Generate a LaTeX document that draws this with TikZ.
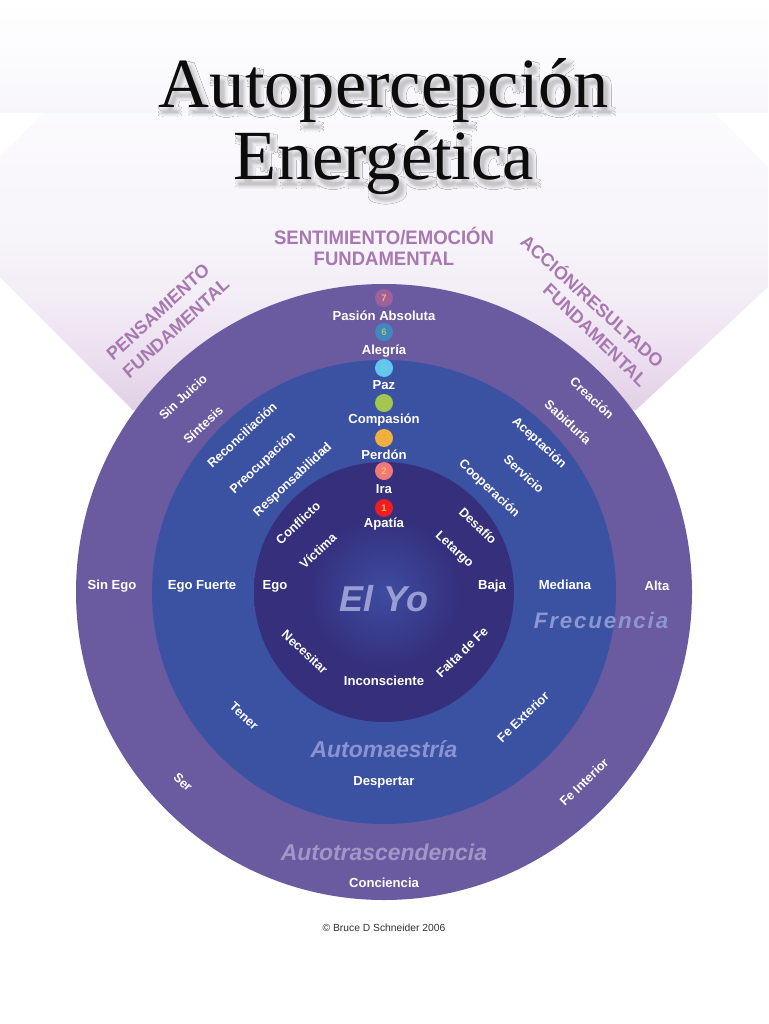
\documentclass[tikz,border=0pt]{standalone}
\usepackage{fontspec}
\usetikzlibrary{fadings}
\setmainfont{Liberation Sans}
\newfontfamily\titlefont{Liberation Serif}
\definecolor{ringout}{HTML}{6A5A9F}
\definecolor{ringmid}{HTML}{3B51A2}
\definecolor{ringin}{HTML}{352F7C}
\definecolor{ringglow}{HTML}{3E4CA0}
\definecolor{ringglowb}{HTML}{3A4092}
\definecolor{heading}{HTML}{A878B0}
\definecolor{hexa}{HTML}{E0D0E4}
\definecolor{hexb}{HTML}{ECDFF0}
\definecolor{hexc}{HTML}{F3EDF6}
\definecolor{hexd}{HTML}{F7F4FA}
\definecolor{hexe}{HTML}{FBFAFD}
\definecolor{bandlow}{HTML}{F8F6FB}
\definecolor{titleink}{HTML}{0C0C0C}
\definecolor{zyo}{HTML}{989ED4}
\definecolor{zfre}{HTML}{8C96D0}
\definecolor{zaut}{HTML}{8A94D2}
\definecolor{ztra}{HTML}{A097C8}
\definecolor{ba}{HTML}{A0609E}\definecolor{bat}{HTML}{F0BE5A}
\definecolor{bb}{HTML}{3F88C0}\definecolor{bbt}{HTML}{A5C864}
\definecolor{bc}{HTML}{60C8F0}\definecolor{bct}{HTML}{82C8C8}
\definecolor{bd}{HTML}{A0C850}\definecolor{bdt}{HTML}{B2C248}
\definecolor{be}{HTML}{F0B040}\definecolor{bet}{HTML}{E8AA40}
\definecolor{bf}{HTML}{F07878}\definecolor{bft}{HTML}{F5BE5A}
\definecolor{bg}{HTML}{EE1C25}\definecolor{bgt}{HTML}{FABE3C}
\definecolor{crc}{HTML}{323232}
\pgfdeclareverticalshading{hexshade}{100bp}{color(0bp)=(hexa); color(25bp)=(hexa); color(34bp)=(hexb); color(44bp)=(hexc); color(54bp)=(hexd); color(75bp)=(hexe); color(100bp)=(hexe)}
\pgfdeclareradialshading{yoshade}{\pgfpoint{0bp}{0bp}}{color(0bp)=(ringglow); color(6bp)=(ringglowb); color(15bp)=(ringin); color(100bp)=(ringin)}
\tikzset{
  lab/.style={font=\bfseries\fontsize{13.1}{15}\selectfont,text=white,inner sep=0pt},
  rlab/.style={lab,font=\bfseries\fontsize{12.7}{15}\selectfont},
  head/.style={font=\bfseries\fontsize{19.5}{21}\selectfont,text=heading,inner sep=0pt,xscale=.95},
  rhead/.style={head,font=\bfseries\fontsize{18.6}{21}\selectfont},
  zone/.style={font=\bfseries\itshape\fontsize{#1}{#1}\selectfont,inner sep=0pt},
  bubble/.style={circle,minimum size=18pt,inner sep=0pt,font=\bfseries\fontsize{9.5}{10}\selectfont},
  ttl/.style={font=\titlefont\fontsize{70.5}{72}\selectfont,anchor=base,inner sep=0pt},
}
\begin{tikzfadingfrompicture}[name=ttlshadow,x=1pt,y=-1pt]
  \path (0,40) rectangle (768,210);
  \foreach \dx/\dy/\lev in {8/8/97,0/8/97,8/1/97,0/1/97,4/9/97,8/5/97,0/5/97,4/0/97,7/7/94,1/7/94,7/2/94,1/2/94,4/8/94,7/5/94,1/5/94,4/1/94,6/6/90,2/6/90,6/3/90,2/3/90,4/7/90,6/5/90,2/5/90,4/3/90,5/6/85,3/6/85,5/4/85,3/4/85,4/5/80}{
    \node[ttl,text=transparent!\lev] at (384+\dx,108+\dy) {Autopercepción};
    \node[ttl,text=transparent!\lev] at (384+\dx,180+\dy) {Energética};
  }
\end{tikzfadingfrompicture}
\begin{document}
\begin{tikzpicture}[x=1pt,y=-1pt]
\useasboundingbox (0,0) rectangle (768,1024);
\clip (0,0) rectangle (768,1024);
\fill[white] (0,0) rectangle (768,1024);
\shade[top color=white,bottom color=bandlow] (0,0) rectangle (768,113);
\path[shading=hexshade] (43,113) -- (0,157) -- (0,277) -- (133,410) -- (636,410) -- (768,287) -- (768,167) -- (715,113) -- cycle;
% rings
\fill[ringout] (384,592) circle[radius=308];
\fill[ringmid] (384,592) circle[radius=232];
\path[shading=yoshade] (384,592) circle[radius=130];
% title shadow
\fill[black,path fading=ttlshadow,fit fading=false,fading transform={shift={(384,125)}}] (0,40) rectangle (768,210);
\node[ttl,text=titleink] (t1) at (384,108) {Autopercepción};
\node[ttl,text=titleink] (t2) at (384,180) {Energética};
% headings
\node[head] (h1) at (384,236) {SENTIMIENTO/EMOCIÓN};
\node[head] (h2) at (384,259) {FUNDAMENTAL};
\node[rhead,rotate=41] (h3) at (158,312) {PENSAMIENTO};
\node[rhead,rotate=41] (h4) at (176,328) {FUNDAMENTAL};
\node[rhead,rotate=-41] (h5) at (593,300) {ACCIÓN/RESULTADO};
\node[rhead,rotate=-43] (h6) at (595,335) {FUNDAMENTAL};
% left spokes
\node[rlab,rotate=43] (a1) at (183,397) {Sin Juicio};
\node[rlab,rotate=43] (a2) at (203,425) {Síntesis};
\node[rlab,rotate=43] (a3) at (242,435) {Reconciliación};
\node[rlab,rotate=43] (a4) at (263,463) {Preocupación};
\node[rlab,rotate=43] (a5) at (293,480) {Responsabilidad};
\node[rlab,rotate=43] (a6) at (298,523) {Conflicto};
\node[rlab,rotate=43] (a7) at (318,551) {Víctima};
% right spokes
\node[rlab,rotate=-43] (b1) at (592,398) {Creación};
\node[rlab,rotate=-43] (b2) at (568,422) {Sabiduría};
\node[rlab,rotate=-43] (b3) at (539,443) {Aceptación};
\node[rlab,rotate=-43] (b4) at (524,474) {Servicio};
\node[rlab,rotate=-43] (b5) at (489,489) {Cooperación};
\node[rlab,rotate=-43] (b6) at (478,526) {Desafío};
\node[rlab,rotate=-43] (b7) at (454,550) {Letargo};
% horizontal
\node[lab] (c1) at (112,586) {Sin Ego};
\node[lab] (c2) at (202,586) {Ego Fuerte};
\node[lab] (c3) at (275,586) {Ego};
\node[lab] (c4) at (492,586) {Baja};
\node[lab] (c5) at (565,585) {Mediana};
\node[lab] (c6) at (657,586) {Alta};
% bottom
\node[rlab,rotate=-43] (d1) at (305,652) {Necesitar};
\node[lab] (d2) at (384,681) {Inconsciente};
\node[rlab,rotate=44] (d3) at (462,652) {Falta de Fe};
\node[rlab,rotate=-43] (d4) at (244,716) {Tener};
\node[rlab,rotate=44] (d5) at (523,717) {Fe Exterior};
\node[lab] (d6) at (384,782) {Despertar};
\node[rlab,rotate=-43] (d7) at (183,782) {Ser};
\node[rlab,rotate=44] (d8) at (584,782) {Fe Interior};
\node[lab] (d9) at (384,883) {Conciencia};
% zone titles
\node[zone=36,text=zyo] (z1) at (384,599) {El Yo};
\node[zone=22.4,text=zfre] (z2) at (601,620) {\addfontfeature{LetterSpace=8}Frecuencia};
\node[zone=23,text=zaut] (z3) at (384,749) {Automaestría};
\node[zone=22.9,text=ztra] (z4) at (384,852) {Autotrascendencia};
% chakra bubbles
\node[bubble,fill=ba,text=bat] (n7) at (384,298) {7};
\node[bubble,fill=bb,text=bbt] (n6) at (384,332) {6};
\node[bubble,fill=bc,text=bct] (n5) at (384,368) {5};
\node[bubble,fill=bd,text=bdt] (n4) at (384,403) {4};
\node[bubble,fill=be,text=bet] (n3) at (384,438) {3};
\node[bubble,fill=bf,text=bft] (n2) at (384,471) {2};
\node[bubble,fill=bg,text=bgt] (n1) at (384,508) {1};
\node[lab] (l7) at (384,316) {Pasión Absoluta};
\node[lab] (l6) at (384,351) {Alegría};
\node[lab] (l5) at (384,385) {Paz};
\node[lab] (l4) at (384,420) {Compasión};
\node[lab] (l3) at (384,455) {Perdón};
\node[lab] (l2) at (384,489) {Ira};
\node[lab] (l1) at (384,524) {Apatía};
\node[font=\fontsize{10.3}{11}\selectfont,text=crc,inner sep=0pt] (cr) at (384,928) {© Bruce D Schneider 2006};
\end{tikzpicture}
\end{document}
